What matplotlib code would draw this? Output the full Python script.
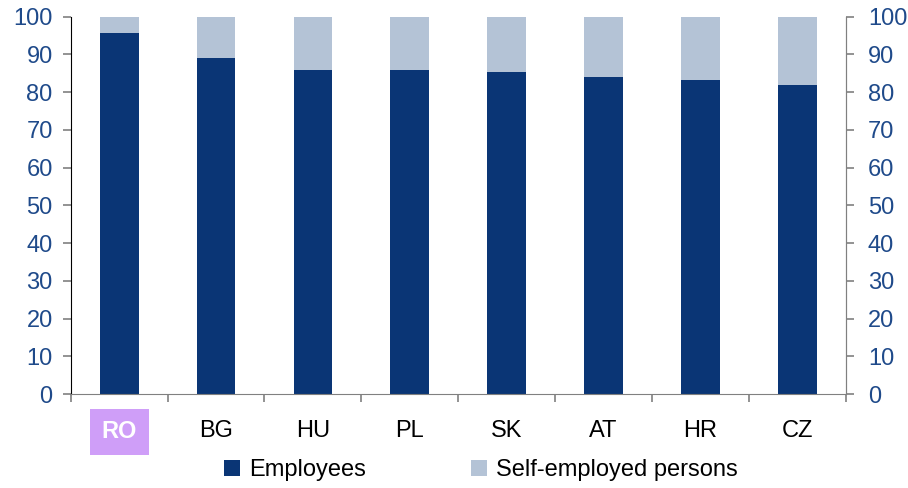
import matplotlib.pyplot as plt
from matplotlib.patches import Patch

countries = ["RO", "BG", "HU", "PL", "SK", "AT", "HR", "CZ"]
employees = [95.6, 89.0, 85.9, 85.9, 85.3, 84.0, 83.2, 81.9]
self_employed = [4.4, 11.0, 14.3, 14.3, 14.7, 16.0, 17.0, 18.3]

DARK = "#0A3575"
LIGHT = "#B4C3D6"
TICK_BLUE = "#1F4A8A"
FS = 17

plt.rcParams["font.family"] = ["Liberation Sans", "DejaVu Sans"]

fig = plt.figure(figsize=(9.08, 4.88), dpi=100)
ax = fig.add_axes([0.0779, 0.1926, 0.8535, 0.7732])

x = list(range(len(countries)))
ax.bar(x, employees, width=0.4, color=DARK, label="Employees")
ax.bar(x, self_employed, width=0.4, bottom=employees, color=LIGHT,
       label="Self-employed persons")

ax.set_xlim(-0.5, len(countries) - 0.5)
ax.set_ylim(0, 100)
ax.set_yticks(range(0, 101, 10))
ax.tick_params(axis="y", colors="#808080", labelcolor=TICK_BLUE,
               labelsize=FS, length=6, direction="out", width=1.2, pad=7)

# labels centred under bars, tick marks between categories
ax.set_xticks(x)
ax.set_xticklabels(countries, fontsize=FS)
ax.set_xticks([i - 0.5 for i in x] + [len(x) - 0.5], minor=True)
ax.tick_params(axis="x", which="major", length=0, pad=19)
ax.tick_params(axis="x", which="minor", length=6, color="#808080", width=1.2)

ax.spines["top"].set_visible(False)
ax.spines["right"].set_color("#808080")
ax.spines["left"].set_color("black")
ax.spines["bottom"].set_color("#808080")

# highlight RO label
ro = ax.get_xticklabels()[0]
ro.set_color("white")
ro.set_fontweight("bold")
ro.set_bbox(dict(boxstyle="square,pad=0.5", facecolor="#CF9EF8", edgecolor="none"))

ax2 = ax.twinx()
ax2.set_ylim(0, 100)
ax2.set_yticks(range(0, 101, 10))
ax2.tick_params(axis="y", colors="#808080", labelcolor=TICK_BLUE,
                labelsize=FS, length=6, direction="out", width=1.2, pad=10)
for s in ["top", "left", "bottom"]:
    ax2.spines[s].set_visible(False)
ax2.spines["right"].set_color("#808080")

handles = [Patch(facecolor=DARK, label="Employees"),
           Patch(facecolor=LIGHT, label="Self-employed persons")]
fig.legend(handles=handles, loc="center", bbox_to_anchor=(0.53, 0.037),
           ncol=2, frameon=False, fontsize=FS, handlelength=0.68,
           handleheight=0.68, handletextpad=0.38, columnspacing=4.45,
           borderpad=0, borderaxespad=0)

fig.savefig("out.png", dpi=100)
